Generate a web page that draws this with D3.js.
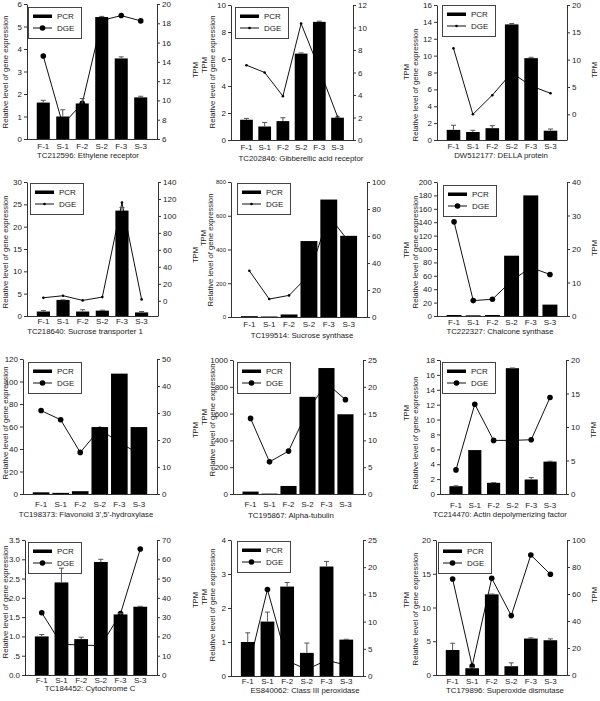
<!DOCTYPE html>
<html><head><meta charset="utf-8">
<script src="https://cdn.jsdelivr.net/npm/d3@7"></script>
<style>body{margin:0;background:#fff}svg{display:block}text{font-family:"Liberation Sans",Arial,sans-serif;fill:#222}</style>
</head><body><svg id="c" width="600" height="701"></svg>
<script>
const categories = ["F-1","S-1","F-2","S-2","F-3","S-3"];
const titles = ["TC212596: Ethylene receptor","TC202846: Gibberellic acid receptor","DW512177: DELLA protein",
  "TC218640: Sucrose transporter 1","TC199514: Sucrose synthase","TC222327: Chalcone synthase",
  "TC198373: Flavonoid 3',5'-hydroxylase","TC195867: Alpha-tubulin","TC214470: Actin depolymerizing factor",
  "TC184452: Cytochrome C","ES840062: Class III peroxidase","TC179896: Superoxide dismutase"];
const legendLabels = ["PCR","DGE"];

const pcr1 = [1.62,1.0,1.58,5.42,3.58,1.85], err1 = [0.1,0.3,0.22,0.03,0.07,0.05], dge1 = [14.6,7.5,9.7,18.3,18.8,18.25];
const pcr2 = [1.5,1.0,1.4,6.4,8.75,1.65], err2 = [0.1,0.3,0.25,0.05,0.05,0.05], dge2 = [6.65,6.0,3.9,10.35,6.3,2.07];
const pcr3 = [1.2,0.95,1.4,13.7,9.7,1.1], err3 = [0.55,0.2,0.3,0.1,0.1,0.2], dge3 = [12.07,0,3.5,7.6,5.2,3.84];
const pcr4 = [1.0,3.6,1.0,1.2,23.6,0.8], err4 = [0.2,0.02,0.4,0.1,0.7,0.2], dge4 = [3.5,5.9,0.4,4.3,115.7,1.6];
const pcr5 = [5,3,15,450,696,481], err5 = [0,0,0,0,0,0], dge5 = [34.2,13.3,16.0,31,75,56];
const pcr6 = [1.5,1,1.5,90,180,17], err6 = [0,0,0,0,0,0], dge6 = [28.1,4.6,5.0,10.5,14.5,12.4];
const pcr7 = [1.5,1,2.5,59.5,107,59.5], err7 = [0,0,0,0,0,0], dge7 = [30.9,27.5,15.4,24,19,15];
const pcr8 = [18,3,60,725,940,595], err8 = [0,0,0,0,0,0], dge8 = [14.1,6.0,8.0,15.5,20.7,17.6];
const pcr9 = [1.05,5.9,1.5,16.9,1.95,4.35], err9 = [0.05,0,0.03,0.03,0.25,0.05], dge9 = [3.6,13.4,8.0,8.0,8.1,14.4];
const pcr10 = [1.0,2.4,0.93,2.93,1.57,1.77], err10 = [0.05,0.37,0.05,0.07,0.03,0.01], dge10 = [32.3,16,15.5,15.2,31.9,65.3];
const pcr11 = [1.0,1.6,2.63,0.68,3.22,1.07], err11 = [0.27,0.28,0.12,0.29,0.15,0.01], dge11 = [1.0,15.9,2.8,1.2,2.9,2.0];
const pcr12 = [3.7,1.0,11.95,1.3,5.4,5.15], err12 = [1.0,0.1,0.05,0.5,0.1,0.2], dge12 = [71.1,6.7,71.6,44,88.9,74.6];

const leftDomains = [[0,6],[0,10],[0,16],[0,30],[0,800],[0,200],[0,120],[0,1000],[0,18],[0,3.5],[0,4],[0,20]];
const rightDomains = [[6,20],[0,12],[-4.7,20],[-18,140],[0,100],[0,40],[0,50],[0,25],[0,20],[0,70],[0,25],[0,100]];
const leftTicks = [[0,1,2,3,4,5,6],[0,2,4,6,8,10],[0,2,4,6,8,10,12,14,16],[0,5,10,15,20,25,30],[0,200,400,600,800],
  [0,20,40,60,80,100,120,140,160,180,200],[0,20,40,60,80,100,120],[0,200,400,600,800,1000],[0,2,4,6,8,10,12,14,16,18],
  [0,0.5,1,1.5,2,2.5,3,3.5],[0,1,2,3,4],[0,5,10,15,20]];
const leftTickLabels10 = ["0.0",".5","1.0","1.5","2.0","2.5","3.0","3.5"];
const rightTicks = [[6,8,10,12,14,16,18,20],[0,2,4,6,8,10,12],[0,5,10,15,20],[0,20,40,60,80,100,120,140],[0,20,40,60,80,100],
  [0,10,20,30,40],[0,10,20,30,40,50],[0,5,10,15,20,25],[0,5,10,15,20],[0,10,20,30,40,50,60,70],[0,5,10,15,20,25],[0,20,40,60,80,100]];

const pcrs=[pcr1,pcr2,pcr3,pcr4,pcr5,pcr6,pcr7,pcr8,pcr9,pcr10,pcr11,pcr12];
const errs=[err1,err2,err3,err4,err5,err6,err7,err8,err9,err10,err11,err12];
const dges=[dge1,dge2,dge3,dge4,dge5,dge6,dge7,dge8,dge9,dge10,dge11,dge12];

// layout (panel-relative)
const layout = [
 {L:27,R:157,T:4,B:139, pi:0.33, big:true, leg:[28,7], relX:5, relY:72, tpmL:null, tpmR:[195,70], labY:149, titY:158, titX:88},
 {L:31,R:153,T:5,B:140, pi:0.3, big:false, leg:[35,7], relX:12, relY:72, tpmL:[4,65], tpmR:null, labY:150, titY:161, titX:101},
 {L:37,R:167,T:5,B:140, pi:0.3, big:false, leg:[42,5], relX:15, relY:85, tpmL:[6,72], tpmR:[194,70], labY:149, titY:158, titX:101},
 {L:27,R:158,T:7,B:141, pi:0.33, big:false, leg:[30,8], relX:5, relY:77, tpmL:null, tpmR:[195,80], labY:149, titY:159, titX:85},
 {L:31,R:167,T:7,B:142, pi:0.15, big:false, leg:[37,8], relX:10, relY:75, tpmL:[3,63], tpmR:null, labY:152, titY:163, titX:102},
 {L:37,R:167,T:7,B:141, pi:0.22, big:true, leg:[43,10], relX:15, relY:77, tpmL:[6,75], tpmR:[194,73], labY:150, titY:159, titX:100},
 {L:23,R:157,T:9,B:144, pi:0.15, big:true, leg:[28,12], relX:5, relY:73, tpmL:null, tpmR:[195,80], labY:157, titY:167, titX:86},
 {L:33,R:163,T:10,B:144, pi:0.15, big:true, leg:[37,12], relX:12, relY:70, tpmL:[4,67], tpmR:null, labY:157, titY:168, titX:91},
 {L:40,R:166,T:10,B:144, pi:0.3, big:true, leg:[42,12], relX:15, relY:83, tpmL:[6,63], tpmR:[193,80], labY:158, titY:167, titX:100},
 {L:25,R:157,T:15,B:150, pi:0.3, big:true, leg:[28,17], relX:5, relY:77, tpmL:null, tpmR:[195,75], labY:158, titY:166, titX:90},
 {L:31,R:163,T:15,B:151, pi:0.3, big:true, leg:[37,16], relX:12, relY:80, tpmL:[4,72], tpmR:null, labY:159, titY:168, titX:105},
 {L:36,R:167,T:15,B:150, pi:0.3, big:true, leg:[38,17], relX:15, relY:84, tpmL:[6,75], tpmR:[194,70], labY:159, titY:168, titX:105}
];

const svg = d3.select("#c");
const FS = 8;

layout.forEach((lo, i) => {
  const col = i % 3, row = Math.floor(i / 3);
  const ox = col * 200, oy = row * 175;
  const g = svg.append("g").attr("transform", `translate(${ox},${oy})`);

  const x = d3.scaleBand().domain(categories).range([lo.L, lo.R]).paddingInner(lo.pi).paddingOuter(0.5);
  const yL = d3.scaleLinear().domain(leftDomains[i]).range([lo.B, lo.T]);
  const yR = d3.scaleLinear().domain(rightDomains[i]).range([lo.B, lo.T]);
  const bw = x.bandwidth();
  const cx = c => x(c) + bw / 2;
  const r = lo.big ? 2.8 : 1.3;

  // DGE line (drawn beneath bars)
  const pts = categories.map((c, k) => [cx(c), yR(dges[i][k])]);
  g.append("path").attr("d", d3.line()(pts)).attr("fill","none").attr("stroke","#111").attr("stroke-width",1);
  g.selectAll("circle.m").data(pts).join("circle").attr("cx", d=>d[0]).attr("cy", d=>d[1]).attr("r", r).attr("fill","#000");

  // bars
  g.selectAll("rect.b").data(categories).join("rect")
    .attr("x", c => x(c)).attr("width", bw)
    .attr("y", (c,k) => yL(pcrs[i][k])).attr("height", (c,k) => lo.B - yL(pcrs[i][k]))
    .attr("fill","#000");

  // error bars
  categories.forEach((c, k) => {
    const e = errs[i][k]; if (!e) return;
    const v = pcrs[i][k], xc = cx(c);
    g.append("line").attr("x1",xc).attr("x2",xc).attr("y1",yL(v)).attr("y2",yL(v+e)).attr("stroke","#555").attr("stroke-width",1);
    g.append("line").attr("x1",xc-2.5).attr("x2",xc+2.5).attr("y1",yL(v+e)).attr("y2",yL(v+e)).attr("stroke","#555").attr("stroke-width",1);
  });

  // axes
  const aL = d3.axisLeft(yL).tickValues(leftTicks[i]).tickSize(3).tickSizeOuter(0).tickPadding(2).tickFormat(d3.format("~g"));
  if (i === 9) aL.tickFormat((d, k) => leftTickLabels10[k]);
  const gL = g.append("g").attr("transform", `translate(${lo.L},0)`).call(aL);
  const aR = d3.axisRight(yR).tickValues(rightTicks[i]).tickSize(3).tickSizeOuter(0).tickPadding(2).tickFormat(d3.format("~g"));
  const gR = g.append("g").attr("transform", `translate(${lo.R},0)`).call(aR);
  [gL, gR].forEach(a => {
    a.attr("font-family", null).attr("font-size", null);
    a.selectAll("text").attr("font-size", i === 4 ? 6 : FS).attr("fill","#222");
    a.selectAll("line").attr("stroke","#333");
    a.select(".domain").attr("stroke","#333");
  });
  if (i === 4) gR.selectAll("text").attr("font-size", FS);
  g.append("line").attr("x1", lo.L).attr("x2", lo.R).attr("y1", lo.B + 0.5).attr("y2", lo.B + 0.5).attr("stroke","#333");

  // category labels
  g.selectAll("text.cat").data(categories).join("text").attr("class","cat")
    .attr("x", c => cx(c)).attr("y", lo.labY).attr("text-anchor","middle").attr("font-size", FS).text(c => c);
  g.append("text").attr("x", lo.titX).attr("y", lo.titY).attr("text-anchor","middle").attr("font-size", 7.8).text(titles[i]);

  // y labels
  g.append("text").attr("transform", `translate(${lo.relX + 3},${lo.relY}) rotate(-90)`).attr("text-anchor","middle")
    .attr("font-size", 7.7).text("Relative level of gene expression");
  if (lo.tpmL) g.append("text").attr("transform", `translate(${lo.tpmL[0] + 3},${lo.tpmL[1]}) rotate(-90)`).attr("text-anchor","middle").attr("font-size", 7.7).text("TPM");
  if (lo.tpmR) g.append("text").attr("transform", `translate(${lo.tpmR[0] + 3},${lo.tpmR[1]}) rotate(-90)`).attr("text-anchor","middle").attr("font-size", 7.7).text("TPM");

  // legend
  const lg = g.append("g").attr("transform", `translate(${lo.leg[0]},${lo.leg[1]})`);
  lg.append("rect").attr("x",0.5).attr("y",0.5).attr("width",53).attr("height",31).attr("fill","none").attr("stroke","#444");
  lg.append("rect").attr("x",5).attr("y",7.5).attr("width",19).attr("height",3.5).attr("fill","#000");
  lg.append("text").attr("x",29).attr("y",12).attr("font-size",FS).text(legendLabels[0]);
  lg.append("line").attr("x1",5).attr("x2",24).attr("y1",21).attr("y2",21).attr("stroke","#111");
  lg.append("circle").attr("cx",14.5).attr("cy",21).attr("r", r).attr("fill","#000");
  lg.append("text").attr("x",29).attr("y",24).attr("font-size",FS).text(legendLabels[1]);
});
</script></body></html>
